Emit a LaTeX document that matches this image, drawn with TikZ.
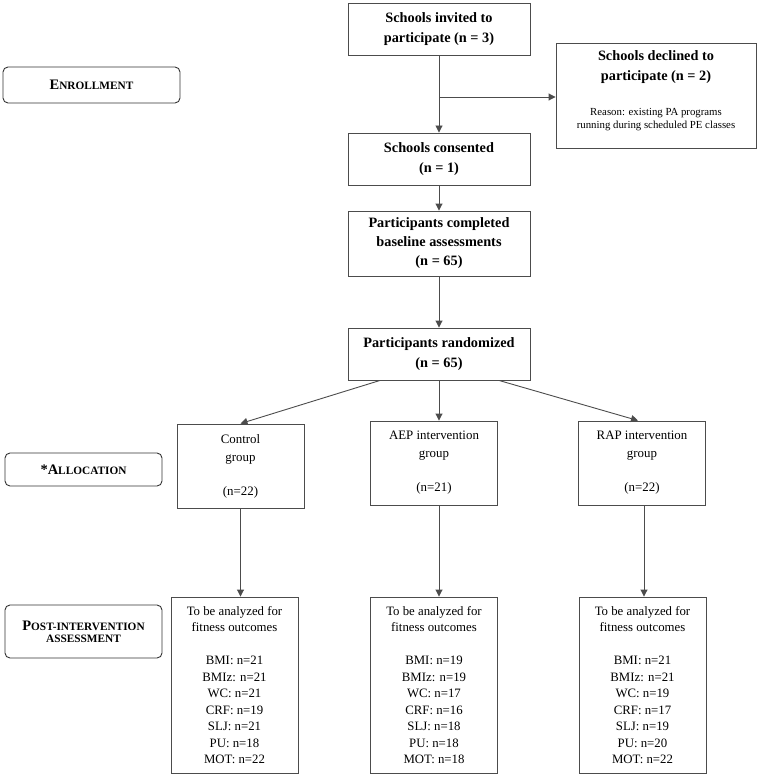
\documentclass[tikz,border=0pt]{standalone}
\usepackage{fontspec}
\setmainfont{Liberation Serif}
\usetikzlibrary{arrows.meta, positioning, calc}

\newcommand{\stagecaps}[2]{{\fontsize{14.5}{18}\selectfont #1}{\fontsize{11.3}{18}\selectfont #2}}
\newcommand{\reasonfont}{\fontsize{10.8}{12.5}\selectfont}

\begin{document}
\begin{tikzpicture}[x=1pt, y=-1pt,
    every node/.style={inner sep=2pt},
    box/.style={draw=black!70, line width=0.9pt, align=center,
        font=\fontsize{14.3}{20}\selectfont\bfseries},
    grpbox/.style={draw=black!70, line width=0.9pt, align=center,
        minimum width=127pt, font=\fontsize{12.9}{18}\selectfont},
    outbox/.style={grpbox, font=\fontsize{12.8}{16.5}\selectfont},
    stage/.style={draw=black!80, line width=0.9pt, rounded corners=5pt,
        align=center, font=\bfseries},
    arr/.style={draw=black!70, line width=0.9pt,
        -{Triangle[length=7pt,width=7pt]}}]
    \useasboundingbox (0,0) rectangle (759,778);

    % stage labels
    \node[stage, minimum width=177pt, minimum height=36pt] (enroll) at (91.5,85)
        {\stagecaps{E}{NROLLMENT}};
    \node[stage, minimum width=157pt, minimum height=33pt] (alloc) at (83.5,469.5)
        {\stagecaps{*A}{LLOCATION}};
    \node[stage, minimum width=157pt, minimum height=53pt] (post) at (83.5,631.5)
        {\stagecaps{P}{OST-INTERVENTION}\\\stagecaps{}{ASSESSMENT}};

    % enrollment
    \node[box, minimum width=182pt, minimum height=52pt] (invited) at (439,29)
        {Schools invited to\\participate (n = 3)};
    \node[box, minimum width=200pt, minimum height=105pt] (declined) at (656,95.5)
        {Schools declined to\\participate (n = 2)\\[15pt]
         \reasonfont\mdseries Reason: existing PA programs\\[-7.5pt]
         \reasonfont\mdseries running during scheduled PE classes\\[-8pt]\mbox{}};
    \node[box, minimum width=182pt, minimum height=52pt] (consented) at (439,159)
        {Schools consented\\(n = 1)};
    \node[box, minimum width=182pt, minimum height=65pt] (baseline) at (439,243.5)
        {Participants completed\\[-1pt]baseline assessments\\[-1pt](n = 65)};
    \node[box, minimum width=182pt, minimum height=52pt] (random) at (439,354)
        {Participants randomized\\(n = 65)};

    % allocation
    \node[grpbox, minimum height=84pt] (control) at (240.5,466)
        {Control\\group\\[16pt](n=22)};
    \node[grpbox, minimum height=84pt] (aep) at (434,463)
        {AEP intervention\\group\\[16pt](n=21)};
    \node[grpbox, minimum height=84pt] (rap) at (642,463)
        {RAP intervention\\group\\[16pt](n=22)};

    % post-intervention
    \node[outbox, minimum height=176pt] (postctrl) at (234.5,685)
        {To be analyzed for\\fitness outcomes\\[16.5pt]
         BMI: n=21\\BMIz: n=21\\WC: n=21\\CRF: n=19\\SLJ: n=21\\PU: n=18\\MOT: n=22};
    \node[outbox, minimum height=176pt] (postaep) at (434,685)
        {To be analyzed for\\fitness outcomes\\[16.5pt]
         BMI: n=19\\BMIz: n=19\\WC: n=17\\CRF: n=16\\SLJ: n=18\\PU: n=18\\MOT: n=18};
    \node[outbox, minimum height=176pt] (postrap) at (642.5,685)
        {To be analyzed for\\fitness outcomes\\[16.5pt]
         BMI: n=21\\BMIz: n=21\\WC: n=19\\CRF: n=17\\SLJ: n=19\\PU: n=20\\MOT: n=22};

    \coordinate (split) at (invited.south |- 0,97);

    \draw[arr] (invited) -- (consented);
    \draw[arr] (split) -- (split -| declined.west);
    \draw[arr] (consented) -- (baseline);
    \draw[arr] (baseline) -- (random);
    \draw[arr] ($(random.south)+(-59,0)$) -- (control.north);
    \draw[arr] (random.south) -- (random.south |- aep.north);
    \draw[arr] ($(random.south)+(60,0)$) -- ($(rap.north)+(-4,0)$);
    \draw[arr] (control.south) -- (control.south |- postctrl.north);
    \draw[arr] (random.south |- aep.south) -- (random.south |- postaep.north);
    \draw[arr] ($(rap.south)+(2,0)$) -- ($(rap.south |- postrap.north)+(2,0)$);
\end{tikzpicture}
\end{document}
